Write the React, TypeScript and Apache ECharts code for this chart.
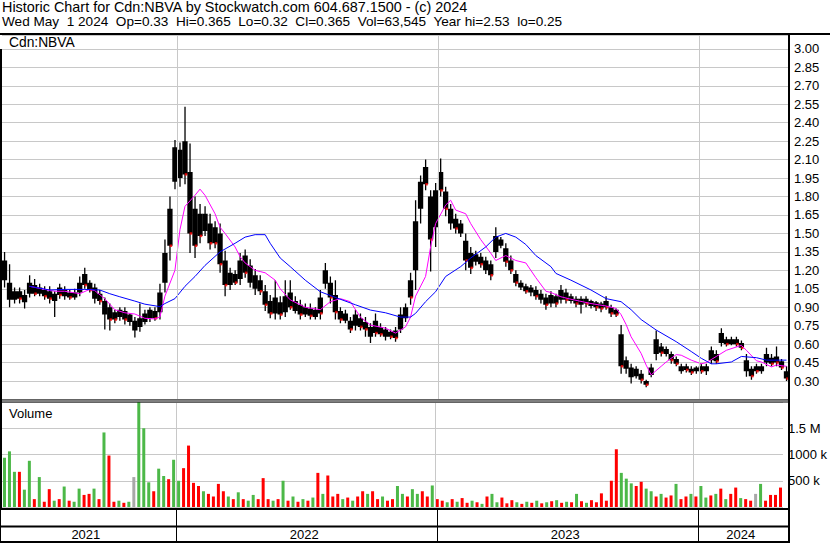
import React, { useEffect, useRef } from "react";
import * as echarts from "echarts";

const FONT = "'Liberation Sans', Arial, Helvetica, sans-serif";

const titleLine1 = "Historic Chart for Cdn:NBVA by Stockwatch.com 604.687.1500 - (c) 2024";
const titleLine2 = "Wed May  1 2024  Op=0.33  Hi=0.365  Lo=0.32  Cl=0.365  Vol=63,545  Year hi=2.53  lo=0.25";
const symbolLabel = "Cdn:NBVA";
const volumeLabel = "Volume";

// Weekly bars (weeks ending on Wednesdays), first week ends 2021-05-05, last 2024-05-01
const FIRST_WEEK_END = Date.UTC(2021, 4, 5);

// weekly extremes and typical trading range (price, $)
const lows = [
  1.06, 0.90, 0.93, 0.93, 0.89, 0.98, 0.99, 0.99, 0.96, 0.93,
  0.82, 0.97, 0.96, 0.96, 0.96, 0.99, 1.05, 1.02, 0.93, 0.92,
  0.72, 0.71, 0.77, 0.79, 0.76, 0.75, 0.655, 0.70, 0.76, 0.78,
  0.79, 0.80, 1.02, 1.28, 1.86, 1.88, 1.90, 1.34, 1.30, 1.42,
  1.48, 1.37, 1.38, 1.18, 0.99, 1.04, 1.08, 1.08, 1.14, 1.06,
  1.00, 1.00, 0.87, 0.81, 0.80, 0.80, 0.82, 0.88, 0.85, 0.80,
  0.82, 0.80, 0.80, 0.80, 1.05, 0.93, 0.80, 0.77, 0.77, 0.69,
  0.71, 0.71, 0.66, 0.61, 0.66, 0.66, 0.63, 0.64, 0.62, 0.69,
  0.78, 0.92, 1.04, 1.58, 1.85, 1.19, 1.39, 1.80, 1.64, 1.53,
  1.50, 1.47, 1.20, 1.17, 1.24, 1.22, 1.17, 1.12, 1.30, 1.38,
  1.23, 1.17, 1.07, 1.04, 1.01, 0.99, 0.96, 0.93, 0.88, 0.90,
  0.90, 0.93, 0.93, 0.93, 0.90, 0.85, 0.90, 0.89, 0.87, 0.86,
  0.88, 0.82, 0.82, 0.36, 0.36, 0.28, 0.32, 0.28, 0.25, 0.33,
  0.47, 0.50, 0.50, 0.44, 0.42, 0.36, 0.37, 0.35, 0.36, 0.36,
  0.35, 0.44, 0.44, 0.58, 0.58, 0.59, 0.58, 0.55, 0.335, 0.31,
  0.36, 0.36, 0.42, 0.42, 0.42, 0.39, 0.30,
];
const rangeLow = [
  1.12, 0.96, 0.96, 0.97, 0.94, 1.01, 1.01, 1.01, 0.99, 0.97,
  0.95, 1.00, 0.99, 0.98, 0.98, 1.02, 1.08, 1.04, 0.97, 0.95,
  0.84, 0.80, 0.80, 0.82, 0.80, 0.78, 0.71, 0.74, 0.78, 0.81,
  0.81, 0.86, 1.10, 1.40, 1.92, 1.95, 1.98, 1.50, 1.40, 1.48,
  1.52, 1.42, 1.42, 1.25, 1.08, 1.08, 1.10, 1.13, 1.18, 1.10,
  1.05, 1.03, 0.92, 0.85, 0.85, 0.84, 0.86, 0.90, 0.87, 0.84,
  0.84, 0.83, 0.82, 0.85, 1.09, 0.98, 0.86, 0.80, 0.79, 0.72,
  0.75, 0.74, 0.72, 0.66, 0.69, 0.68, 0.66, 0.66, 0.65, 0.72,
  0.81, 0.98, 1.20, 1.70, 1.90, 1.45, 1.55, 1.85, 1.70, 1.58,
  1.54, 1.50, 1.28, 1.22, 1.27, 1.25, 1.20, 1.16, 1.35, 1.40,
  1.27, 1.20, 1.10, 1.06, 1.03, 1.02, 0.99, 0.96, 0.92, 0.93,
  0.93, 0.96, 0.96, 0.95, 0.93, 0.92, 0.93, 0.91, 0.90, 0.89,
  0.90, 0.85, 0.84, 0.42, 0.40, 0.33, 0.34, 0.31, 0.27, 0.35,
  0.52, 0.53, 0.52, 0.47, 0.44, 0.38, 0.39, 0.37, 0.38, 0.38,
  0.38, 0.47, 0.46, 0.61, 0.60, 0.60, 0.60, 0.57, 0.38, 0.34,
  0.38, 0.38, 0.45, 0.44, 0.45, 0.41, 0.32,
];
const rangeHigh = [
  1.28, 1.10, 1.03, 1.03, 1.00, 1.10, 1.08, 1.06, 1.04, 1.03,
  1.01, 1.06, 1.04, 1.02, 1.02, 1.10, 1.17, 1.10, 1.06, 1.01,
  0.95, 0.90, 0.86, 0.88, 0.87, 0.84, 0.79, 0.81, 0.85, 0.88,
  0.87, 1.02, 1.34, 1.70, 2.20, 2.18, 2.25, 2.00, 1.70, 1.66,
  1.66, 1.58, 1.55, 1.50, 1.28, 1.18, 1.17, 1.28, 1.32, 1.24,
  1.16, 1.12, 1.03, 0.95, 0.98, 0.94, 0.99, 1.02, 0.95, 0.92,
  0.90, 0.89, 0.88, 0.98, 1.20, 1.10, 1.00, 0.87, 0.85, 0.79,
  0.84, 0.81, 0.78, 0.74, 0.79, 0.74, 0.72, 0.70, 0.71, 0.84,
  0.90, 1.12, 1.60, 1.92, 2.04, 1.80, 1.85, 2.00, 1.84, 1.70,
  1.62, 1.58, 1.44, 1.34, 1.33, 1.31, 1.28, 1.25, 1.48, 1.45,
  1.38, 1.28, 1.17, 1.10, 1.07, 1.06, 1.04, 1.01, 0.98, 1.00,
  0.99, 1.04, 1.02, 0.99, 0.97, 0.97, 0.97, 0.95, 0.94, 0.93,
  0.95, 0.90, 0.88, 0.68, 0.47, 0.41, 0.40, 0.36, 0.30, 0.41,
  0.64, 0.58, 0.56, 0.52, 0.48, 0.42, 0.42, 0.40, 0.41, 0.42,
  0.42, 0.55, 0.52, 0.69, 0.64, 0.64, 0.64, 0.61, 0.47, 0.40,
  0.42, 0.42, 0.52, 0.49, 0.50, 0.46, 0.38,
];
const highs = [
  1.35, 1.25, 1.06, 1.06, 1.04, 1.16, 1.13, 1.09, 1.07, 1.07,
  1.03, 1.09, 1.07, 1.04, 1.05, 1.15, 1.22, 1.12, 1.09, 1.04,
  0.98, 0.93, 0.88, 0.90, 0.90, 0.85, 0.82, 0.93, 0.88, 0.90,
  0.90, 1.09, 1.45, 1.80, 2.26, 2.24, 2.53, 2.23, 1.80, 1.74,
  1.72, 1.66, 1.60, 1.58, 1.36, 1.22, 1.20, 1.34, 1.37, 1.29,
  1.21, 1.16, 1.08, 1.00, 1.12, 0.99, 1.12, 1.12, 0.99, 0.96,
  0.93, 0.93, 0.90, 1.04, 1.26, 1.15, 1.12, 0.90, 0.88, 0.82,
  0.88, 0.85, 0.82, 0.77, 0.85, 0.77, 0.74, 0.72, 0.74, 0.90,
  0.93, 1.18, 1.77, 1.97, 2.10, 1.85, 1.91, 2.11, 1.88, 1.74,
  1.66, 1.61, 1.50, 1.39, 1.36, 1.34, 1.31, 1.28, 1.55, 1.47,
  1.42, 1.32, 1.20, 1.12, 1.09, 1.08, 1.07, 1.04, 1.01, 1.03,
  1.01, 1.08, 1.05, 1.01, 0.99, 0.99, 0.99, 0.96, 0.95, 0.945,
  0.99, 0.92, 0.89, 0.755, 0.50, 0.44, 0.42, 0.39, 0.31, 0.44,
  0.71, 0.61, 0.58, 0.54, 0.50, 0.44, 0.44, 0.42, 0.42, 0.44,
  0.44, 0.58, 0.55, 0.73, 0.66, 0.66, 0.66, 0.63, 0.52, 0.42,
  0.44, 0.44, 0.57, 0.52, 0.58, 0.48, 0.42,
];

// daily-peak volume within each week, in thousands of shares
const volumeK = [
  940, 1060, 670, 670, 330, 880, 150, 570, 100, 340,
  120, 150, 390, 120, 100, 350, 230, 250, 350, 150,
  1420, 980, 100, 120, 80, 100, 570, 2000, 1500, 470,
  300, 730, 590, 530, 900, 500, 740, 1170, 460, 400,
  300, 250, 200, 440, 300, 200, 150, 280, 150, 120,
  230, 150, 550, 150, 120, 150, 500, 120, 200, 100,
  150, 120, 180, 650, 250, 600, 200, 250, 150, 180,
  120, 200, 300, 250, 300, 150, 200, 120, 150, 400,
  250, 200, 340, 250, 300, 200, 410, 150, 120, 90,
  150, 100, 170, 80, 120, 90, 60, 200, 250, 90,
  180, 70, 130, 90, 60, 100, 80, 120, 70, 90,
  110, 130, 80, 100, 90, 250, 110, 80, 130, 90,
  260, 120, 500, 1100, 650, 540, 450, 400, 480, 350,
  300, 200, 250, 180, 220, 440, 150, 200, 250, 200,
  400, 180, 220, 250, 350, 150, 250, 370, 170, 150,
  120, 250, 440, 120, 230, 230, 370,
];
// g = up, r = down, n = unchanged
const direction =
  "gggrggrgrr" + "grgrggrrgr" + "grrgrgnggg" + "rggrggrrrr" + "grrrrgrgrg" +
  "grrrgrgrgr" + "grgrgrrrgr" + "grrgrrgrrg" + "grggrrgrrg" + "rgrrgrgrgg" +
  "rrrgrgrgrg" + "rgrgrgrgrr" + "rrrrgggrrg" + "grgrrgrrgr" + "ggrgrgrrgr" +
  "rngrrrr";

// moving averages: [week index, price]
const maShort: [number, number][] = [
  [5, 1.07], [8, 1.045], [10, 1.03], [12, 1.03], [15, 1.01], [17, 1.045], [18, 1.035], [20, 0.97],
  [22, 0.88], [24, 0.855], [26, 0.845], [28, 0.81], [30, 0.805], [31, 0.82], [32, 0.99], [34, 1.2],
  [35, 1.53], [36, 1.72], [38, 1.81], [39, 1.86], [40, 1.81], [42, 1.66], [43, 1.55], [44, 1.5],
  [46, 1.39], [47, 1.31], [48, 1.26], [50, 1.2], [51, 1.19], [52, 1.18], [54, 1.12], [55, 1.05],
  [57, 0.96], [60, 0.9], [63, 0.88], [65, 0.945], [67, 0.97], [69, 0.945], [71, 0.82], [73, 0.755],
  [76, 0.73], [78, 0.69], [80, 0.74], [81, 0.82], [82, 0.99], [84, 1.15], [85, 1.39], [86, 1.58],
  [88, 1.73], [89, 1.77], [90, 1.69], [92, 1.66], [93, 1.58], [95, 1.45], [97, 1.34], [98, 1.28],
  [100, 1.32], [102, 1.28], [104, 1.26], [106, 1.14], [108, 1.03], [109, 1.02], [111, 0.985],
  [113, 0.965], [117, 0.93], [120, 0.91], [122, 0.89], [123, 0.84], [124, 0.76], [125, 0.66],
  [127, 0.525], [128, 0.43], [129, 0.35], [131, 0.42], [132, 0.455], [134, 0.515], [135, 0.51],
  [137, 0.47], [139, 0.44], [140, 0.45], [142, 0.5], [144, 0.55], [147, 0.59], [148, 0.55],
  [150, 0.465], [151, 0.455], [153, 0.415], [154, 0.43], [156, 0.42],
];
const maLong: [number, number][] = [
  [5, 1.07], [9, 1.04], [12, 1.045], [16, 1.045], [19, 1.04], [21, 1.01], [23, 0.985], [26, 0.95],
  [28, 0.925], [31, 0.905], [32, 0.93], [34, 0.97], [36, 1.07], [38, 1.15], [40, 1.24], [43, 1.35],
  [46, 1.42], [48, 1.47], [50, 1.49], [52, 1.49], [53, 1.42], [55, 1.3], [57, 1.23], [60, 1.12],
  [63, 1.026], [66, 0.98], [70, 0.92], [73, 0.877], [76, 0.855], [79, 0.82], [81, 0.82], [82, 0.85],
  [84, 0.945], [86, 1.026], [88, 1.15], [91, 1.23], [93, 1.3], [96, 1.39], [98, 1.47], [100, 1.5],
  [102, 1.47], [104, 1.41], [106, 1.32], [109, 1.23], [110, 1.175], [113, 1.12], [117, 1.04],
  [120, 0.97], [123, 0.945], [125, 0.88], [127, 0.8], [130, 0.715], [134, 0.62], [137, 0.54],
  [139, 0.485], [141, 0.44], [142, 0.44], [145, 0.455], [147, 0.5], [150, 0.49], [152, 0.47],
  [156, 0.47],
];

const volumeTickLabels: Record<number, string> = { 500: "500 k", 1000: "1000 k", 1500: "1.5 M" };

const COLORS = { up: "#4cb848", down: "#ff0000", flat: "#a8a8a8", grid: "#c8c8c8" };

export default function App() {
  const ref = useRef<HTMLDivElement>(null);

  useEffect(() => {
    if (!ref.current) return;
    const chart = echarts.init(ref.current, undefined, { renderer: "svg" });
    const N = lows.length;

    const weekDates: string[] = [];
    for (let i = 0; i < N; i++) {
      weekDates.push(new Date(FIRST_WEEK_END + i * 7 * 86400000).toISOString().slice(0, 10));
    }
    const segments: { year: string; start: number; end: number }[] = [];
    let segStart = -0.5;
    let cur = weekDates[0].slice(0, 4);
    for (let i = 1; i < N; i++) {
      const y = weekDates[i].slice(0, 4);
      if (y !== cur) {
        segments.push({ year: cur, start: segStart, end: i - 0.5 });
        segStart = i - 0.5;
        cur = y;
      }
    }
    segments.push({ year: cur, start: segStart, end: N - 0.5 });
    const boundaries = segments.slice(1).map((s) => s.start);

    const candleData = lows.map((l, i) => [i, rangeLow[i], rangeHigh[i], l, highs[i]]);
    const redTicks = rangeLow.map((v, i) => (direction[i] === "r" ? [i, v] : null)).filter(Boolean);
    const volData = volumeK.map((v, i) => ({
      value: [i, v],
      itemStyle: {
        color: direction[i] === "g" ? COLORS.up : direction[i] === "r" ? COLORS.down : COLORS.flat,
      },
    }));

    const vLines = (color: string) => ({
      silent: true,
      symbol: ["none", "none"],
      label: { show: false },
      lineStyle: { color, type: "solid", width: 1 },
      emphasis: { disabled: true },
      data: boundaries.map((b) => ({ xAxis: b })),
    });

    const hiddenX = (gridIndex: number) => ({
      type: "value",
      gridIndex,
      min: -0.5,
      max: N - 0.5,
      show: false,
    });

    const txt = { fontSize: 13, fontWeight: "normal", color: "#000", fontFamily: FONT };

    const blk = (x: number, y: number, w: number, h: number) => ({
      type: "rect",
      shape: { x, y, width: w, height: h },
      style: { fill: "#000" },
      silent: true,
      z: 100,
    });

    chart.setOption({
      animation: false,
      backgroundColor: "#fff",
      title: [
        { text: titleLine1, left: 2, top: 0.5, padding: 0, textStyle: { ...txt, fontSize: 14.4, lineHeight: 13 } },
        { text: titleLine2, left: 2, top: 14.5, padding: 0, textStyle: { ...txt, fontSize: 13.6, lineHeight: 13 } },
        { text: symbolLabel, left: 9, top: 35.5, padding: 0, textStyle: { ...txt, fontSize: 13.8, lineHeight: 13 } },
        { text: volumeLabel, left: 9, top: 406.5, padding: 0, textStyle: { ...txt, lineHeight: 13 } },
      ],
      grid: [
        { left: 2, right: 41, top: 35, height: 364.5 },
        { left: 2, right: 41, top: 402, height: 105 },
        { left: 1, right: 41, top: 509, height: 33 },
      ],
      xAxis: [hiddenX(0), hiddenX(1), hiddenX(2)],
      yAxis: [
        {
          type: "value",
          gridIndex: 0,
          position: "right",
          min: 0.15,
          max: 3.113,
          interval: 0.15,
          axisLine: { show: false },
          axisTick: { show: false },
          splitLine: { show: true, lineStyle: { color: COLORS.grid, width: 1 } },
          axisLabel: {
            show: true,
            margin: 5,
            showMinLabel: false,
            showMaxLabel: false,
            formatter: (v: number) => v.toFixed(2),
            ...txt,
          },
        },
        {
          type: "value",
          gridIndex: 1,
          position: "right",
          min: 0,
          max: 2000,
          interval: 500,
          axisLine: { show: false },
          axisTick: { show: false },
          splitLine: { show: true, lineStyle: { color: COLORS.grid, width: 1 } },
          axisLabel: {
            show: true,
            margin: 5,
            formatter: (v: number) => volumeTickLabels[v] ?? "",
            ...txt,
          },
        },
        { type: "value", gridIndex: 2, min: 0, max: 1, show: false },
      ],
      series: [
        {
          type: "custom",
          name: "Price",
          xAxisIndex: 0,
          yAxisIndex: 0,
          clip: true,
          data: candleData,
          encode: { x: 0, y: [1, 2, 3, 4] },
          renderItem: (params: any, api: any) => {
            const i = api.value(0);
            const lo = api.coord([i, api.value(3)]);
            const hi = api.coord([i, api.value(4)]);
            const b1 = api.coord([i, api.value(1)]);
            const b2 = api.coord([i, api.value(2)]);
            const band = api.size([1, 0])[0];
            const bw = band + 0.3;
            return {
              type: "group",
              children: [
                {
                  type: "rect",
                  shape: { x: lo[0] - 0.6, y: hi[1], width: 1.3, height: lo[1] - hi[1] },
                  style: { fill: "#000" },
                },
                {
                  type: "rect",
                  shape: { x: b1[0] - bw / 2, y: b2[1], width: bw, height: Math.max(1, b1[1] - b2[1]) },
                  style: { fill: "#000" },
                },
              ],
            };
          },
          markLine: vLines(COLORS.grid),
          z: 2,
        },
        {
          type: "scatter",
          name: "Close (down)",
          xAxisIndex: 0,
          yAxisIndex: 0,
          data: redTicks,
          symbol: "rect",
          symbolSize: [2.5, 2.5],
          symbolOffset: [1, 0],
          itemStyle: { color: "#ff0000" },
          silent: true,
          z: 3,
        },
        {
          type: "line",
          name: "Short MA",
          xAxisIndex: 0,
          yAxisIndex: 0,
          data: maShort,
          showSymbol: false,
          symbol: "none",
          lineStyle: { color: "#ff00ff", width: 1 },
          z: 4,
        },
        {
          type: "line",
          name: "Long MA",
          xAxisIndex: 0,
          yAxisIndex: 0,
          data: maLong,
          showSymbol: false,
          symbol: "none",
          lineStyle: { color: "#0000ff", width: 1 },
          z: 4,
        },
        {
          type: "bar",
          name: "Volume",
          xAxisIndex: 1,
          yAxisIndex: 1,
          data: volData,
          barWidth: 3,
          markLine: vLines(COLORS.grid),
          z: 2,
        },
        {
          type: "line",
          name: "Years",
          xAxisIndex: 2,
          yAxisIndex: 2,
          data: [],
          markLine: vLines("#000"),
          markArea: {
            silent: true,
            itemStyle: { color: "rgba(0,0,0,0)" },
            label: { show: true, position: "inside", offset: [-3, 0], ...txt, fontSize: 13 },
            data: segments.map((s) => [
              { xAxis: s.start, yAxis: 0, name: s.year },
              { xAxis: s.end, yAxis: 0.48 },
            ]),
          },
        },
      ],
      graphic: [
        blk(0, 33, 830, 2),
        blk(0, 49, 2, 460),
        blk(788, 33, 2, 510),
        blk(0, 399.5, 789, 1),
        blk(0, 401.5, 789, 1),
        blk(0, 508, 789, 2),
        blk(0, 525.5, 789, 2),
        blk(0, 541, 789, 2),
        blk(0, 509, 1, 34),
      ],
    });
    return () => chart.dispose();
  }, []);

  return (
    <div
      ref={ref}
      style={{
        position: "fixed",
        left: 0,
        top: 0,
        width: 830,
        height: 543,
        background: "#fff",
        whiteSpace: "pre",
      }}
    />
  );
}
